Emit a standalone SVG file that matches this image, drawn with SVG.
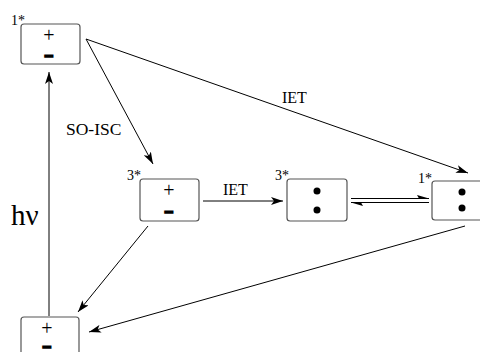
<svg xmlns="http://www.w3.org/2000/svg" width="480" height="352" viewBox="0 0 480 352">
<defs>
<marker id="ah" viewBox="0 0 12 8" refX="12" refY="4" markerWidth="12" markerHeight="8" markerUnits="userSpaceOnUse" orient="auto">
<path d="M0,0 L12,4 L0,8 L3,4 Z" fill="#000"/>
</marker>
<style>
.box{fill:#fff;stroke:#555;stroke-width:1.2}
.lbl{font-family:"Liberation Serif","Times New Roman",serif;fill:#000}
.star{font-family:"Liberation Serif","Times New Roman",serif;font-size:14px;fill:#000}
.plus{font-family:"Liberation Serif","Times New Roman",serif;font-size:20px;fill:#000;text-anchor:middle}
.minus{font-family:"Liberation Sans",Arial,sans-serif;font-size:15px;font-weight:bold;fill:#000;stroke:#000;stroke-width:1.8;text-anchor:middle}
.dot{fill:#000}
.ln{stroke:#000;stroke-width:1;fill:none}
</style>
</defs>
<rect width="480" height="352" fill="#fff"/>
<g id="connectors">
<line class="ln" x1="49" y1="316" x2="49" y2="72" marker-end="url(#ah)"/>
<line class="ln" x1="86" y1="39" x2="153" y2="164" marker-end="url(#ah)"/>
<line class="ln" x1="86" y1="39" x2="468" y2="173" marker-end="url(#ah)"/>
<line class="ln" x1="203" y1="201" x2="283" y2="201" marker-end="url(#ah)"/>
<path class="ln" d="M351,198.5 L429,198.5"/>
<path d="M429,198.5 L417,195 L419,198.5 Z" fill="#000"/>
<path class="ln" d="M429,202.5 L351,202.5"/>
<path d="M351,202.5 L363,206 L361,202.5 Z" fill="#000"/>
<line class="ln" x1="148" y1="226" x2="78" y2="312" marker-end="url(#ah)"/>
<line class="ln" x1="465" y1="226" x2="89" y2="332" marker-end="url(#ah)"/>
<text class="lbl" x="66" y="135" font-size="17.5">SO-ISC</text>
<text class="lbl" x="282" y="103" font-size="16">IET</text>
<text class="lbl" x="223" y="195" font-size="16">IET</text>
<text class="lbl" x="11" y="225" font-size="29">hν</text>
</g>
<g id="node-1s-ion">
<rect class="box" x="21" y="24" width="59" height="40" rx="3"/>
<text class="star" x="11" y="25">1*</text>
<text class="plus" x="49" y="42">+</text>
<text class="minus" x="49" y="60.5">−</text>
</g>
<g id="node-3s-ion">
<rect class="box" x="140" y="179" width="59" height="42" rx="3"/>
<text class="star" x="127" y="180">3*</text>
<text class="plus" x="169" y="197">+</text>
<text class="minus" x="169" y="217">−</text>
</g>
<g id="node-3s-rad">
<rect class="box" x="287" y="179" width="60" height="42" rx="3"/>
<text class="star" x="275" y="180">3*</text>
<circle class="dot" cx="317" cy="191" r="3.5"/>
<circle class="dot" cx="317" cy="210" r="3.5"/>
</g>
<g id="node-1s-rad">
<rect class="box" x="432" y="181" width="60" height="39" rx="3"/>
<text class="star" x="418" y="183">1*</text>
<circle class="dot" cx="462" cy="192" r="3.5"/>
<circle class="dot" cx="462" cy="208" r="3.5"/>
</g>
<g id="node-ground">
<rect class="box" x="21" y="317" width="58" height="45" rx="3"/>
<text class="plus" x="47" y="335">+</text>
<text class="minus" x="47" y="352">−</text>
</g>
</svg>
